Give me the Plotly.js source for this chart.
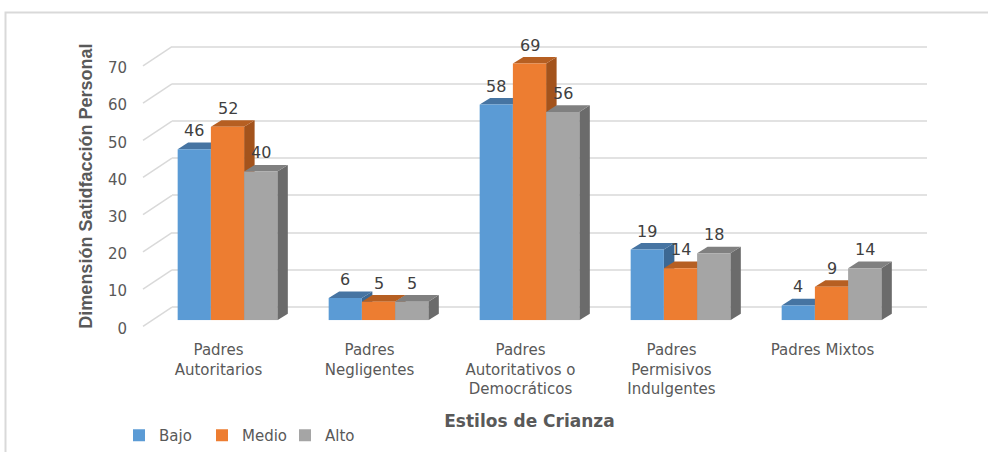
<!DOCTYPE html>
<html><head><meta charset="utf-8">
<script src="https://cdn.plot.ly/plotly-3.0.1.min.js"></script>
<style>html,body{margin:0;padding:0;background:#fff}#chart{width:988px;height:452px}</style>
</head><body><div id="chart"></div>
<script>
// ---- data ----
const categories = ["Padres<br>Autoritarios", "Padres<br>Negligentes", "Padres<br>Autoritativos o<br>Democráticos", "Padres<br>Permisivos<br>Indulgentes", "Padres Mixtos"];
const seriesNames = ["Bajo", "Medio", "Alto"];
const bajo = [46, 6, 58, 19, 4];
const medio = [52, 5, 69, 14, 9];
const alto = [40, 5, 56, 18, 14];
const yTicks = [0, 10, 20, 30, 40, 50, 60, 70];
const xTitle = "Estilos de Crianza";
const yTitle = "Dimensión Satidfacción Personal";

// ---- geometry (pixels) ----
const W = 988, H = 452;
const px2x = p => p / W, px2y = p => (H - p) / H;
const pxPerUnit = 261 / 70;
const frontZeroPx = 321, backZeroPx = 307.7, sideFrontZeroPx = 327;
const catPx = 151;
const barX0 = 152, barX1 = barX0 + catPx * categories.length;
const backX0 = 172, backX1 = 927, sideFrontX = 143;
const depthDx = 10.5, depthDy = 6.6;
const bargap = 0.34;
const backRange = [-6, 71], barRange = [0, 76];
function ydom(zeroPx, r) { return [px2y(zeroPx - r[0] * pxPerUnit), px2y(zeroPx - r[1] * pxPerUnit)]; }

const colors = ['#5b9bd5', '#ed7d31', '#a5a5a5'];
const topColors = ['#4674a2', '#b65f22', '#808080'];
const sideColors = ['#3c6893', '#a3531c', '#6b6b6b'];

const series = [bajo, medio, alto];
const idx = categories.map((c, i) => i);
const nS = series.length;
const barW = (1 - bargap) / nS;

const traces = series.map((vals, s) => ({
  type: 'bar', name: seriesNames[s], x: idx, y: vals, xaxis: 'x2', yaxis: 'y2',
  marker: { color: colors[s], line: { width: 0 } }, hoverinfo: 'name+y'
}));

const dxD = depthDx / catPx, dyD = depthDy / pxPerUnit;
const shapes = [];
// outer frame
shapes.push({ type: 'rect', xref: 'paper', yref: 'paper', x0: px2x(5.5), x1: 1.2, y0: -0.2, y1: px2y(12.5),
  line: { color: '#d9d9d9', width: 2 }, fillcolor: 'rgba(0,0,0,0)', layer: 'below' });
// side-wall diagonals
const sideOff = (sideFrontZeroPx - backZeroPx) / pxPerUnit;
yTicks.forEach(v => {
  shapes.push({ type: 'line', xref: 'paper', yref: 'y', x0: px2x(sideFrontX), x1: px2x(backX0), y0: v - sideOff, y1: v,
    line: { color: '#d9d9d9', width: 1.5 }, layer: 'below' });
});
// 3D faces
series.forEach((vals, s) => {
  vals.forEach((v, i) => {
    const xl = i - (1 - bargap) / 2 + barW * s, xr = xl + barW;
    shapes.push({ type: 'path', xref: 'x2', yref: 'y2', layer: 'below', line: { width: 0 }, fillcolor: sideColors[s],
      path: `M${xr},0 L${xr + dxD},${dyD} L${xr + dxD},${v + dyD} L${xr},${v} Z` });
    shapes.push({ type: 'path', xref: 'x2', yref: 'y2', layer: 'below', line: { width: 0 }, fillcolor: topColors[s],
      path: `M${xl},${v} L${xl + dxD},${v + dyD} L${xr + dxD},${v + dyD} L${xr},${v} Z` });
  });
});

const annotations = [];
series.forEach((vals, s) => vals.forEach((v, i) => {
  annotations.push({ xref: 'x2', yref: 'y2', x: i - (1 - bargap) / 2 + barW * (s + 0.5), y: v, text: String(v),
    showarrow: false, yshift: 18.5, yanchor: 'middle', xanchor: 'center',
    font: { family: 'DejaVu Sans', size: 16, color: '#404040' } });
}));

const layout = {
  width: W, height: H, margin: { l: 0, r: 0, t: 0, b: 0 },
  paper_bgcolor: '#ffffff', plot_bgcolor: 'rgba(0,0,0,0)',
  barmode: 'group', bargap: bargap, bargroupgap: 0,
  font: { family: 'DejaVu Sans', color: '#595959', size: 15 },
  xaxis: { domain: [px2x(backX0), px2x(backX1)], range: [-0.5, 4.5], anchor: 'y', showgrid: false, zeroline: false,
    showticklabels: false, showline: false, ticks: '', fixedrange: true },
  yaxis: { domain: ydom(backZeroPx, backRange), range: backRange, anchor: 'x', tickvals: yTicks, showgrid: true,
    gridcolor: '#e2e2e2', gridwidth: 2, zeroline: false, showticklabels: false, ticks: '', showline: false, fixedrange: true,
    title: { text: yTitle, standoff: 73, font: { family: 'Liberation Sans', size: 18, color: '#595959', weight: 'bold' } } },
  xaxis2: { domain: [px2x(barX0), px2x(barX1)], range: [-0.5, 4.5], anchor: 'y2', tickvals: idx, ticktext: categories,
    ticklabelshift: -9, ticklabelstandoff: 19, showgrid: false, zeroline: false, showline: false, ticks: '', fixedrange: true,
    tickfont: { family: 'DejaVu Sans', size: 15, color: '#595959' },
    title: { text: xTitle, standoff: 17, font: { family: 'DejaVu Sans', size: 17, color: '#595959', weight: 'bold' } } },
  yaxis2: { domain: ydom(frontZeroPx, barRange), range: barRange, anchor: 'x2', tickvals: yTicks,
    ticklabelshift: 8, ticklabelstandoff: 24, showgrid: false, zeroline: false, showline: false, ticks: '', fixedrange: true,
    tickfont: { family: 'DejaVu Sans', size: 15, color: '#595959' } },
  showlegend: true,
  legend: { orientation: 'h', x: px2x(119), xanchor: 'left', y: px2y(436), yanchor: 'middle', entrywidth: 38, entrywidthmode: 'pixels',
    font: { family: 'DejaVu Sans', size: 15, color: '#595959' }, bgcolor: 'rgba(0,0,0,0)', traceorder: 'normal' },
  shapes: shapes, annotations: annotations
};

Plotly.newPlot('chart', traces, layout, { displayModeBar: false, staticPlot: true });
</script>
</body></html>
